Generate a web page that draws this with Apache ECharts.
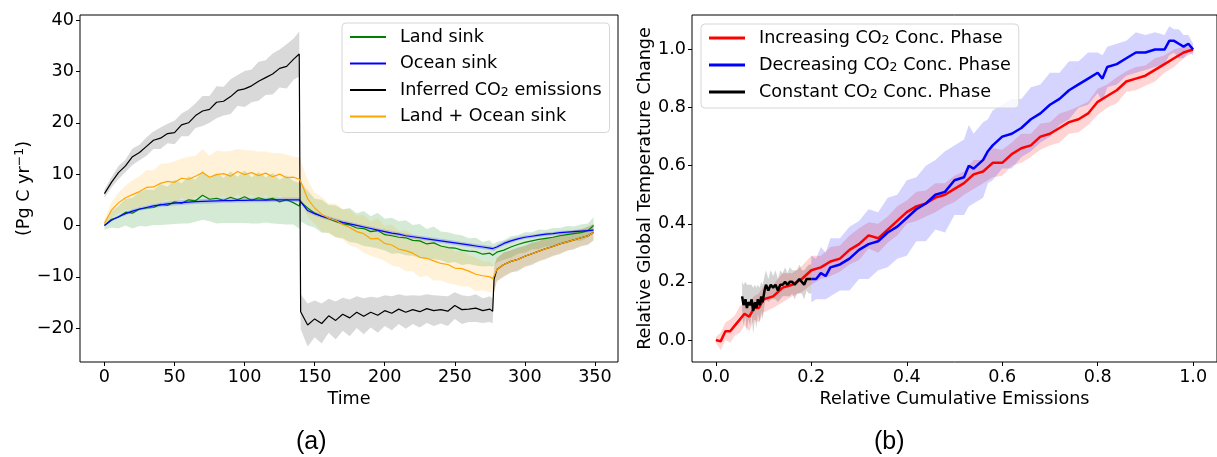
<!DOCTYPE html>
<html>
<head>
<meta charset="utf-8">
<script src="https://cdn.jsdelivr.net/npm/echarts@6/dist/echarts.min.js"></script>
<style>
  html, body { margin: 0; padding: 0; background: #fff; }
  #chart { width: 1217px; height: 457px; }
</style>
</head>
<body>
<div id="chart"></div>
<script>
// ---- panel (a): carbon fluxes over time ----
var years = [0,5,10,15,20,25,30,35,40,45,50,55,60,65,70,75,80,85,90,95,100,105,110,115,120,125,130,135,139,140,
  145,150,155,160,165,170,175,180,185,190,195,200,205,210,215,220,225,230,235,240,245,250,255,260,265,270,275,277,278,
  280,285,290,295,300,305,310,315,320,325,330,335,340,345,349];

var landSink = [0.0,1.2,1.6,2.6,2.4,3.2,3.4,3.5,4.1,3.9,4.6,4.3,5.0,4.8,5.9,5.1,5.3,4.9,5.5,5.0,5.6,4.9,5.4,5.0,5.3,4.6,5.0,4.4,3.8,4.6,
  3.4,2.4,1.8,1.3,0.8,0.3,0.1,-0.5,-0.6,-1.2,-1.0,-1.8,-2.0,-2.3,-2.4,-2.9,-3.0,-3.6,-3.4,-4.0,-4.3,-4.4,-4.8,-5.0,-5.1,-5.6,-5.4,-5.8,-5.7,
  -5.2,-4.8,-4.2,-3.7,-3.3,-3.0,-2.7,-2.5,-2.3,-2.0,-1.8,-1.6,-1.4,-1.0,0.0];
var landSpread = [0.8,1.6,2.2,2.6,3.0,3.3,3.6,3.4,4.0,3.7,4.3,3.9,4.6,4.1,4.8,4.3,4.9,4.4,5.0,4.5,5.1,4.5,5.0,4.4,4.9,4.3,4.8,4.2,4.5,3.8,
  3.4,2.8,3.2,2.7,3.1,2.8,3.3,2.9,3.4,3.0,3.5,3.1,3.5,3.1,3.4,3.0,3.3,2.9,3.2,2.8,3.0,2.7,2.9,2.5,2.7,2.4,2.5,2.2,2.2,
  2.0,1.9,2.1,1.8,2.0,1.7,1.9,1.6,1.8,1.5,1.7,1.4,1.6,1.4,1.6];

var oceanSink = [0.0,1.0,1.7,2.3,2.8,3.2,3.5,3.8,4.0,4.2,4.35,4.45,4.55,4.65,4.7,4.75,4.8,4.85,4.85,4.9,4.9,4.95,4.95,4.95,5.0,5.0,5.0,5.0,5.0,4.7,
  2.9,2.3,1.8,1.4,1.0,0.6,0.3,0.0,-0.3,-0.6,-0.9,-1.2,-1.5,-1.7,-2.0,-2.2,-2.4,-2.6,-2.8,-3.0,-3.2,-3.4,-3.6,-3.8,-4.0,-4.2,-4.4,-4.5,-4.6,
  -4.2,-3.5,-3.0,-2.6,-2.3,-2.1,-1.9,-1.7,-1.6,-1.4,-1.3,-1.2,-1.1,-1.0,-0.9];
var oceanSpread = [0.1,0.2,0.3,0.3,0.35,0.35,0.4,0.4,0.4,0.45,0.45,0.45,0.45,0.45,0.45,0.45,0.45,0.45,0.45,0.45,0.45,0.45,0.45,0.45,0.45,0.45,0.45,0.45,0.45,0.45,
  0.4,0.4,0.4,0.4,0.4,0.4,0.4,0.4,0.4,0.4,0.4,0.4,0.4,0.4,0.4,0.4,0.4,0.4,0.4,0.4,0.4,0.4,0.4,0.4,0.4,0.4,0.4,0.4,0.4,
  0.4,0.4,0.4,0.35,0.35,0.35,0.35,0.35,0.35,0.3,0.3,0.3,0.3,0.3,0.3];

var emissions = [6.2,8.4,10.3,11.6,13.4,14.2,15.4,16.6,17.0,17.9,18.1,19.6,20.0,21.4,22.3,22.6,24.0,24.2,25.1,26.3,26.6,27.2,28.1,28.8,29.5,30.6,31.0,32.4,33.4,-16.8,
  -19.4,-18.2,-19.1,-17.6,-18.5,-17.3,-18.0,-16.9,-17.7,-16.9,-17.5,-16.6,-17.1,-16.3,-16.9,-16.4,-16.8,-16.2,-16.6,-16.4,-16.7,-15.6,-16.4,-16.3,-16.1,-16.6,-16.3,-16.7,-10.5,
  -8.6,-7.6,-7.0,-6.6,-6.0,-5.5,-5.0,-4.5,-4.1,-3.6,-3.2,-2.8,-2.4,-2.0,-1.3];
var emissionsSpread = [0.8,1.0,1.3,1.2,1.6,1.5,1.8,1.7,2.1,1.9,2.3,2.2,2.6,2.4,2.9,2.6,3.1,2.8,3.4,3.0,3.5,3.2,3.8,3.4,4.0,3.7,4.3,4.0,4.4,3.4,
  4.2,3.6,3.9,3.3,3.7,3.2,3.6,3.1,3.5,3.0,3.4,3.0,3.3,2.9,3.2,2.8,3.1,2.8,3.0,2.7,2.9,2.6,2.8,2.5,2.7,2.4,2.5,2.4,2.4,
  2.2,2.4,2.1,2.3,2.0,2.2,1.9,2.1,1.8,2.0,1.7,1.9,1.6,1.8,1.6];

var totalSink = [0.4,3.0,4.4,5.4,6.0,6.6,7.4,7.5,8.2,8.6,8.4,9.2,9.0,9.6,10.3,9.4,9.9,10.1,9.6,10.5,9.9,10.3,9.7,10.2,9.5,10.0,9.3,9.4,9.0,8.6,
  5.2,3.4,2.2,1.4,1.0,0.2,-0.4,-1.2,-1.6,-2.6,-2.5,-3.5,-3.8,-4.6,-4.9,-5.4,-6.2,-6.4,-6.9,-7.4,-7.6,-8.3,-8.4,-8.9,-9.5,-9.8,-10.0,-10.4,-10.5,
  -8.6,-7.6,-7.0,-6.6,-6.0,-5.5,-5.0,-4.5,-4.1,-3.6,-3.2,-2.8,-2.4,-2.0,-1.3];
var totalSpread = [0.8,1.5,2.0,2.4,2.8,3.0,3.4,3.2,3.8,3.5,4.1,3.8,4.4,4.0,4.6,4.2,4.7,4.3,4.9,4.4,4.8,4.3,4.7,4.2,4.6,4.1,4.5,4.0,4.3,4.0,
  3.6,3.0,3.4,2.9,3.3,3.0,3.5,3.1,3.7,3.3,3.9,3.4,4.0,3.5,4.0,3.5,3.9,3.4,3.8,3.3,3.6,3.2,3.5,3.0,3.3,2.8,3.0,2.7,2.6,
  2.4,2.2,2.3,2.0,2.2,1.9,2.1,1.8,2.0,1.7,1.9,1.6,1.8,1.5,1.7];

var timeTicks = [0,50,100,150,200,250,300,350];
var fluxTicks = [-20,-10,0,10,20,30,40];

// ---- panel (b): temperature vs cumulative emissions ----
var incX = [0,0.01,0.02,0.03,0.04,0.05,0.06,0.07,0.08,0.09,0.10,0.12,0.14,0.16,0.18,0.20,0.22,0.24,0.26,0.28,0.30,0.32,0.34,0.36,0.38,0.40,
  0.42,0.44,0.46,0.48,0.50,0.52,0.54,0.56,0.58,0.60,0.62,0.64,0.66,0.68,0.70,0.72,0.74,0.76,0.78,0.80,0.82,0.84,0.86,0.88,0.90,0.92,0.94,0.96,0.98,1.0];
var incY = [0.00,-0.005,0.03,0.03,0.05,0.07,0.09,0.08,0.11,0.11,0.14,0.15,0.18,0.19,0.21,0.24,0.25,0.27,0.28,0.31,0.33,0.36,0.35,0.38,0.41,0.44,
  0.46,0.47,0.49,0.50,0.52,0.54,0.57,0.58,0.61,0.61,0.64,0.66,0.67,0.70,0.71,0.73,0.75,0.76,0.78,0.82,0.84,0.86,0.89,0.90,0.91,0.93,0.95,0.97,0.99,1.00];
var incSpread = [0.01,0.03,0.03,0.04,0.035,0.045,0.04,0.05,0.04,0.05,0.045,0.04,0.05,0.04,0.045,0.05,0.04,0.05,0.045,0.05,0.055,0.045,0.05,0.045,0.05,0.04,
  0.05,0.045,0.05,0.04,0.045,0.04,0.05,0.04,0.05,0.045,0.04,0.05,0.04,0.045,0.04,0.05,0.04,0.045,0.04,0.045,0.04,0.045,0.035,0.04,0.035,0.04,0.03,0.03,0.02,0.01];

var decX = [0.20,0.21,0.22,0.23,0.24,0.26,0.28,0.30,0.32,0.34,0.36,0.38,0.40,0.42,0.44,0.46,0.48,0.50,0.52,0.53,0.54,0.56,0.57,0.58,0.60,
  0.62,0.64,0.66,0.68,0.70,0.72,0.74,0.76,0.78,0.80,0.81,0.82,0.84,0.86,0.88,0.90,0.92,0.94,0.95,0.96,0.97,0.98,0.99,1.0];
var decY = [0.21,0.21,0.23,0.22,0.25,0.26,0.28,0.31,0.33,0.34,0.37,0.39,0.42,0.45,0.47,0.50,0.51,0.55,0.56,0.60,0.59,0.62,0.65,0.67,0.70,
  0.71,0.73,0.76,0.78,0.81,0.83,0.86,0.88,0.90,0.92,0.90,0.94,0.95,0.97,0.99,0.99,1.00,1.00,1.03,1.03,1.02,1.01,1.02,1.00];
var decSpread = [0.08,0.07,0.09,0.08,0.1,0.09,0.11,0.1,0.12,0.1,0.12,0.11,0.13,0.11,0.13,0.12,0.14,0.12,0.13,0.14,0.12,0.13,0.11,0.12,0.11,
  0.12,0.1,0.11,0.1,0.11,0.09,0.1,0.08,0.09,0.07,0.08,0.07,0.07,0.06,0.07,0.06,0.06,0.05,0.05,0.04,0.05,0.04,0.03,0.02];

var constX = [0.055,0.058,0.062,0.065,0.068,0.072,0.075,0.078,0.082,0.085,0.088,0.092,0.095,0.098,0.102,0.105,0.11,0.115,0.12,0.125,
  0.13,0.135,0.14,0.145,0.15,0.155,0.16,0.165,0.17,0.175,0.18,0.185,0.19,0.195,0.2];
var constY = [0.15,0.12,0.14,0.11,0.13,0.12,0.14,0.10,0.13,0.11,0.14,0.12,0.15,0.13,0.17,0.19,0.17,0.19,0.18,0.19,
  0.17,0.19,0.19,0.20,0.19,0.20,0.20,0.19,0.20,0.21,0.20,0.19,0.21,0.21,0.21];
var constSpread = [0.05,0.07,0.06,0.08,0.06,0.07,0.05,0.08,0.06,0.07,0.05,0.06,0.05,0.06,0.05,0.05,0.04,0.05,0.04,0.05,
  0.04,0.05,0.04,0.05,0.04,0.05,0.04,0.05,0.04,0.05,0.04,0.05,0.04,0.05,0.05];

var relTicks = [0,0.2,0.4,0.6,0.8,1.0];

var FONT = 'DejaVu Sans';
var FS = 17.6;
// subscript / superscript styles for rich text
var RICH = {
  sub: { fontFamily: FONT, fontSize: 12.5, color: '#000', padding: [5, 0, 0, 0], verticalAlign: 'bottom' },
  sup: { fontFamily: FONT, fontSize: 12.5, color: '#000', padding: [0, 0, 8, 0] }
};

function pairs(xs, ys) {
  return xs.map(function (x, i) { return [x, ys[i]]; });
}

function band(xs, mid, spread, fill, idx) {
  return {
    type: 'custom',
    name: '_band',
    xAxisIndex: idx,
    yAxisIndex: idx,
    silent: true,
    clip: true,
    data: [[xs[0], mid[0]]],
    renderItem: function (params, api) {
      var pts = [];
      for (var i = 0; i < xs.length; i++) pts.push(api.coord([xs[i], mid[i] + spread[i]]));
      for (var j = xs.length - 1; j >= 0; j--) pts.push(api.coord([xs[j], mid[j] - spread[j]]));
      return { type: 'polygon', shape: { points: pts }, style: { fill: fill, stroke: null } };
    }
  };
}

function line(name, xs, ys, color, width, idx) {
  return {
    type: 'line',
    name: name,
    xAxisIndex: idx,
    yAxisIndex: idx,
    data: pairs(xs, ys),
    symbol: 'none',
    showSymbol: false,
    color: color,
    lineStyle: { color: color, width: width },
    silent: true
  };
}

function minus(v) { return String(v).replace('-', '\u2212'); }

function valueAxis(min, max, ticks, fmt, extra) {
  var ax = {
    type: 'value',
    min: min,
    max: max,
    splitLine: { show: false },
    axisLine: { show: false, onZero: false },
    axisTick: { show: true, inside: false, length: 4, customValues: ticks, lineStyle: { color: '#000', width: 1 } },
    axisLabel: { customValues: ticks, formatter: fmt, color: '#000', fontFamily: FONT, fontSize: FS, margin: 6 },
    nameLocation: 'middle',
    nameTextStyle: { color: '#000', fontFamily: FONT, fontSize: FS, rich: RICH }
  };
  for (var k in extra) ax[k] = extra[k];
  return ax;
}

function co2(name) {
  return name.replace('CO2', 'CO{sub|2}');
}

var legendBase = {
  orient: 'vertical',
  icon: 'rect',
  itemHeight: 2,
  itemWidth: 36,
  itemGap: 8.5,
  backgroundColor: 'rgba(255,255,255,0.8)',
  borderColor: '#d6d6d6',
  borderWidth: 1,
  borderRadius: 4,
  padding: [5, 8, 7, 8],
  formatter: co2,
  textStyle: { color: '#000', fontFamily: FONT, fontSize: FS, lineHeight: 17.5, padding: [0, 0, 0, 9], rich: RICH }
};

var option = {
  animation: false,
  backgroundColor: '#fff',
  grid: [
    { left: 80, top: 15, right: 599, bottom: 95, show: true, borderColor: '#000', borderWidth: 1, backgroundColor: 'transparent' },
    { left: 692, top: 15, right: -11, bottom: 95, show: true, borderColor: '#000', borderWidth: 1, backgroundColor: 'transparent' }
  ],
  xAxis: [
    valueAxis(-17.45, 366.45, timeTicks, function (v) { return minus(v); },
      { gridIndex: 0, name: 'Time', nameGap: 25 }),
    valueAxis(-0.05, 1.05, relTicks, function (v) { return v.toFixed(1); },
      { gridIndex: 1, name: 'Relative Cumulative Emissions', nameGap: 25 })
  ],
  yAxis: [
    valueAxis(-26.6, 41, fluxTicks, function (v) { return minus(v); },
      { gridIndex: 0, name: '(Pg C yr{sup|\u22121})', nameGap: 44 }),
    valueAxis(-0.076, 1.119, relTicks, function (v) { return v.toFixed(1); },
      { gridIndex: 1, name: 'Relative Global Temperature Change', nameGap: 37 })
  ],
  legend: [
    Object.assign({}, legendBase, {
      left: 342, top: 23,
      data: ['Land sink', 'Ocean sink', 'Inferred CO2 emissions', 'Land + Ocean sink']
    }),
    Object.assign({}, legendBase, {
      left: 701, top: 24, itemHeight: 3, padding: [5, 8, 7, 8], itemGap: 9,
      data: ['Increasing CO2 Conc. Phase', 'Decreasing CO2 Conc. Phase', 'Constant CO2 Conc. Phase']
    })
  ],
  graphic: [
    { type: 'text', left: 296, top: 430, style: { text: '(a)', font: '25px "Liberation Sans"', fill: '#000' } },
    { type: 'text', left: 874, top: 430, style: { text: '(b)', font: '25px "Liberation Sans"', fill: '#000' } }
  ],
  series: [
    band(years, landSink, landSpread, 'rgba(0,128,0,0.17)', 0),
    line('Land sink', years, landSink, '#008000', 1.2, 0),
    band(years, oceanSink, oceanSpread, 'rgba(0,0,255,0.17)', 0),
    line('Ocean sink', years, oceanSink, '#0000ff', 1.2, 0),
    band(years, emissions, emissionsSpread, 'rgba(0,0,0,0.15)', 0),
    line('Inferred CO2 emissions', years, emissions, '#000000', 1.2, 0),
    band(years, totalSink, totalSpread, 'rgba(255,165,0,0.15)', 0),
    line('Land + Ocean sink', years, totalSink, '#ffa500', 1.2, 0),

    band(incX, incY, incSpread, 'rgba(255,0,0,0.17)', 1),
    line('Increasing CO2 Conc. Phase', incX, incY, '#ff0000', 2.5, 1),
    band(decX, decY, decSpread, 'rgba(0,0,255,0.17)', 1),
    line('Decreasing CO2 Conc. Phase', decX, decY, '#0000ff', 2.5, 1),
    band(constX, constY, constSpread, 'rgba(0,0,0,0.17)', 1),
    line('Constant CO2 Conc. Phase', constX, constY, '#000000', 2.5, 1)
  ]
};

var chart = echarts.init(document.getElementById('chart'));
chart.setOption(option);
</script>
</body>
</html>
